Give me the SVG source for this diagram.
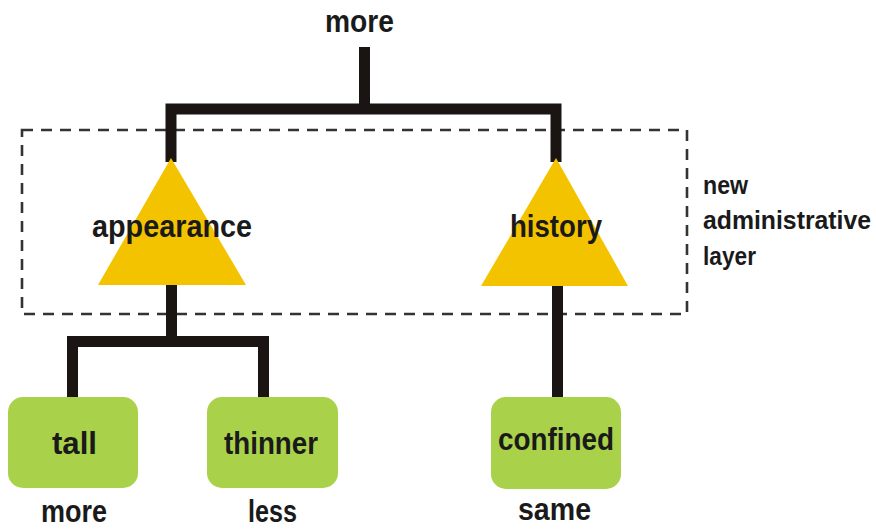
<svg xmlns="http://www.w3.org/2000/svg" width="876" height="529" viewBox="0 0 876 529">
<style>
.t{font-family:"Liberation Sans",Arial,sans-serif;font-weight:bold;font-size:32px;fill:#1a1a1a}
.s{font-family:"Liberation Sans",Arial,sans-serif;font-weight:bold;font-size:25px;fill:#1a1a1a}
.tri{fill:#F4C300}
.box{fill:#AAD14A}
.ln{fill:none;stroke:#1a1512;stroke-width:11;stroke-linejoin:miter;stroke-linecap:butt}
</style>
<rect width="876" height="529" fill="#ffffff"/>
<g id="layer">
<rect x="22" y="130" width="665" height="184" fill="none" stroke="#333" stroke-width="2.6" stroke-dasharray="11 8"/>
<text class="s" x="703" y="194" textLength="45" lengthAdjust="spacingAndGlyphs">new</text>
<text class="s" x="703" y="229" textLength="168" lengthAdjust="spacingAndGlyphs">administrative</text>
<text class="s" x="703" y="265" textLength="53" lengthAdjust="spacingAndGlyphs">layer</text>
</g>
<g id="connectors">
<path class="ln" d="M364.5 47 V109"/>
<path class="ln" d="M171 162 V109 H556 V162"/>
<path class="ln" d="M171.5 283 V342"/>
<path class="ln" d="M72.5 398 V341.5 H263.5 V398"/>
<path class="ln" d="M557.5 284 V398"/>
</g>
<g id="root">
<text class="t" x="325" y="32" textLength="69" lengthAdjust="spacingAndGlyphs">more</text>
</g>
<g id="appearance">
<polygon class="tri" points="171,158 98,285 246,285"/>
<text class="t" x="92" y="237" textLength="160" lengthAdjust="spacingAndGlyphs">appearance</text>
</g>
<g id="history">
<polygon class="tri" points="556,158 481,286 628,286"/>
<text class="t" x="510" y="237" textLength="92" lengthAdjust="spacingAndGlyphs">history</text>
</g>
<g id="tall">
<rect class="box" x="8" y="397" width="130" height="91" rx="15"/>
<text class="t" x="52" y="454" textLength="45" lengthAdjust="spacingAndGlyphs">tall</text>
<text class="t" x="41" y="522" textLength="66" lengthAdjust="spacingAndGlyphs">more</text>
</g>
<g id="thinner">
<rect class="box" x="207" y="397" width="131" height="91" rx="15"/>
<text class="t" x="224" y="454" textLength="94" lengthAdjust="spacingAndGlyphs">thinner</text>
<text class="t" x="248" y="522" textLength="49" lengthAdjust="spacingAndGlyphs">less</text>
</g>
<g id="confined">
<rect class="box" x="491" y="397" width="130" height="92" rx="15"/>
<text class="t" x="498" y="450" textLength="116" lengthAdjust="spacingAndGlyphs">confined</text>
<text class="t" x="518" y="520" textLength="73" lengthAdjust="spacingAndGlyphs">same</text>
</g>
</svg>
